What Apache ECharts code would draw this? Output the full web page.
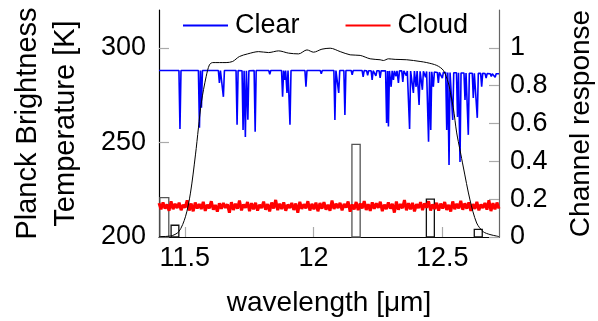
<!DOCTYPE html>
<html>
<head>
<meta charset="utf-8">
<script src="https://cdn.jsdelivr.net/npm/echarts@6/dist/echarts.min.js"></script>
<style>
  html, body { margin: 0; padding: 0; background: #fff; }
  #chart { width: 598px; height: 321px; }
</style>
</head>
<body>
<div id="chart"></div>
<script>
// clear-sky spectrum: absorption lines (centre, line bottom, continuum around it)
const dipWavelength = [
  11.4814, 11.5570, 11.5647, 11.6345, 11.6500, 11.7031, 11.7264, 11.7353, 11.7450, 11.7733,
  11.8300, 11.8798, 11.8876, 11.8969, 11.9085, 11.9705, 12.0300, 12.0829, 12.0977, 12.1217,
  12.1500, 12.1926, 12.2100, 12.2275, 12.2420, 12.2585, 12.2837, 12.2907, 12.3012, 12.3101,
  12.3200, 12.3295, 12.3465, 12.3600, 12.3729, 12.3876, 12.3981, 12.4097, 12.4225, 12.4350,
  12.4465, 12.4550, 12.4651, 12.4845, 12.5000, 12.5171, 12.5260, 12.5403, 12.5589, 12.5686,
  12.5880, 12.6008, 12.6202, 12.6357, 12.6527, 12.6700, 12.6900, 12.7050
];
const dipTemp = [
  257.1, 257.7, 268.3, 281.5, 274.1, 259.3, 256.6, 252.9, 262.0, 255.7,
  286.0, 274.1, 283.1, 276.2, 259.3, 279.4, 286.3, 261.9, 276.2, 264.5,
  285.8, 284.7, 285.5, 283.1, 285.2, 284.1, 260.3, 258.4, 279.4, 283.1,
  285.0, 281.5, 282.0, 285.3, 257.1, 276.2, 279.4, 269.8, 277.8, 284.5,
  250.3, 256.6, 279.4, 281.5, 284.0, 256.6, 238.1, 261.9, 263.5, 239.7,
  272.5, 254.0, 273.5, 263.0, 279.4, 284.0, 284.8, 284.5
];
const dipBase = [
  288.0, 288.0, 288.0, 288.0, 288.0, 288.0, 287.9, 287.9, 287.9, 288.0,
  288.0, 288.0, 288.0, 288.0, 288.0, 288.0, 288.0, 288.0, 288.0, 288.0,
  288.0, 288.0, 287.9, 287.9, 287.9, 287.9, 287.8, 287.8, 287.8, 287.8,
  287.8, 287.8, 287.8, 287.8, 287.7, 287.7, 287.7, 287.6, 287.6, 287.5,
  287.4, 287.3, 287.2, 287.0, 287.0, 286.9, 286.9, 286.8, 286.8, 286.7,
  286.7, 286.6, 286.6, 286.5, 286.5, 286.4, 286.3, 286.3
];

// cloudy spectrum, evenly sampled over the axis range
const cloudTemp = [
  217.9, 214.6, 218.3, 215.0, 217.2, 213.9, 218.8, 214.7, 217.5, 215.3,
  218.1, 214.2, 217.0, 215.6, 219.4, 214.0, 217.7, 213.6, 218.2, 215.1,
  217.4, 214.8, 218.6, 213.8, 217.1, 215.2, 218.9, 214.5, 216.9, 213.4,
  217.8, 214.9, 218.0, 215.4, 217.3, 212.9, 218.4, 214.3, 217.6, 215.0,
  219.2, 214.1, 217.2, 215.5, 218.5, 213.7, 217.9, 214.6, 218.1, 214.0,
  217.0, 215.3, 218.7, 214.4, 217.4, 213.5, 218.2, 215.1, 219.6, 214.2,
  217.6, 214.8, 218.3, 213.9, 217.1, 215.4, 218.0, 214.3, 217.7, 212.8,
  218.6, 214.9, 217.3, 215.2, 218.9, 214.0, 217.5, 214.7, 218.2, 213.6,
  217.9, 215.0, 218.4, 214.5, 217.0, 213.9, 219.3, 214.8, 217.6, 215.3,
  218.1, 214.1, 217.4, 215.6, 218.8, 213.4, 217.2, 214.6, 218.5, 214.2,
  217.7, 215.1, 219.0, 214.3, 217.3, 213.8, 218.3, 214.9, 217.8, 215.4,
  218.6, 213.7, 217.1, 214.8, 218.2, 215.0, 217.6, 212.9, 218.7, 214.4,
  217.4, 215.2, 219.5, 214.1, 217.9, 214.6, 218.0, 213.6, 217.3, 215.3,
  218.4, 214.2, 217.7, 215.5, 218.9, 214.0, 217.2, 214.8, 218.1, 213.9,
  217.6, 215.1, 218.5, 214.3, 217.0, 213.5, 218.8, 214.7, 217.5, 215.2,
  219.1, 214.4, 217.8, 215.0, 218.3, 213.8, 217.4, 214.9, 218.6, 214.1,
  217.2, 215.4, 218.0, 214.5, 219.4, 213.7, 217.9, 214.6, 218.2, 215.0
];

// channel spectral response
const srfWavelength = [
  11.400, 11.4058, 11.4446, 11.4767, 11.5027, 11.5221, 11.5415, 11.5531, 11.5647, 11.5829,
  11.5957, 11.6085, 11.6605, 11.6860, 11.7120, 11.7442, 11.7868, 11.8256, 11.8643, 11.9031,
  11.9419, 11.9744, 12.0000, 12.0326, 12.0647, 12.1035, 12.1422, 12.1810, 12.2198, 12.2585,
  12.2713, 12.2907, 12.3167, 12.3620, 12.4136, 12.4395, 12.4783, 12.5039, 12.5233, 12.5337,
  12.5426, 12.5558, 12.5686, 12.5814, 12.6074, 12.6333, 12.6589, 12.6849, 12.7109, 12.7200
];
const srfResponse = [
  0.000, 0.002, 0.005, 0.028, 0.107, 0.232, 0.434, 0.577, 0.714, 0.847,
  0.910, 0.922, 0.922, 0.928, 0.954, 0.968, 0.980, 0.975, 0.984, 0.972,
  0.968, 0.989, 0.977, 0.993, 0.998, 0.980, 0.963, 0.960, 0.942, 0.937,
  0.933, 0.942, 0.939, 0.937, 0.928, 0.922, 0.907, 0.881, 0.815, 0.746,
  0.683, 0.550, 0.460, 0.370, 0.196, 0.074, 0.028, 0.013, 0.005, 0.002
];

// outlined boxes on the response axis
const boxFrom = [11.403, 11.447, 12.149, 12.438, 12.624];
const boxTo = [11.438, 11.477, 12.181, 12.469, 12.655];
const boxHeight = [0.208, 0.062, 0.49, 0.2, 0.04];

const tempTicks = [200, 250, 300];
const respTicks = [0, 0.2, 0.4, 0.6, 0.8, 1];
const waveTicks = [11.5, 12, 12.5];

const waveMin = 11.4;
const waveMax = 12.72;

const font = "Liberation Sans";
const boxColors = ["#555", "#111", "#555", "#111", "#111"];

const clearData = [[waveMin, dipBase[0]]];
dipWavelength.forEach((w, i) => {
  clearData.push([w - 0.004, dipBase[i]]);
  clearData.push([w, dipTemp[i]]);
  clearData.push([w + 0.004, dipBase[i]]);
});
clearData.push([waveMax, dipBase[dipBase.length - 1]]);

const cloudStep = (waveMax - waveMin) / (cloudTemp.length - 1);
const cloudData = cloudTemp.map((t, i) => [waveMin + i * cloudStep, t]);

const srfData = srfWavelength.map((w, i) => [w, srfResponse[i]]);
const boxData = boxFrom.map((f, i) => [f, boxTo[i], boxHeight[i]]);

const chart = echarts.init(document.getElementById("chart"));

const option = {
  animation: false,
  textStyle: { fontFamily: font },
  grid: { left: 159, right: 99, top: 10, bottom: 84, outerBoundsMode: "none", containLabel: false },
  legend: {
    left: 183,
    top: 12,
    padding: 0,
    icon: "rect",
    itemWidth: 45,
    itemHeight: 2,
    itemGap: 46,
    data: ["Clear", "Cloud"],
    textStyle: { fontFamily: font, fontSize: 27, color: "#000", padding: [0, 0, 0, 2] },
  },
  xAxis: {
    type: "value",
    min: waveMin,
    max: waveMax,
    name: "wavelength [μm]",
    nameLocation: "middle",
    nameGap: 52,
    nameTextStyle: { fontFamily: font, fontSize: 28, color: "#000" },
    axisLine: { lineStyle: { color: "#000", width: 1.2 } },
    axisTick: {
      inside: true,
      length: 10,
      customValues: waveTicks,
      lineStyle: { color: "#aaa", width: 1.2 },
    },
    axisLabel: {
      customValues: waveTicks,
      margin: 8,
      fontFamily: font,
      fontSize: 27,
      color: "#000",
    },
    splitLine: { show: false },
  },
  yAxis: [
    {
      type: "value",
      position: "left",
      min: 200,
      max: 320,
      name: "Planck Brightness\nTemperature [K]",
      nameLocation: "middle",
      nameGap: 74,
      nameTextStyle: { fontFamily: font, fontSize: 29, color: "#000", lineHeight: 38 },
      axisLine: { show: true, lineStyle: { color: "#000", width: 1.2 } },
      axisTick: {
        show: true,
        inside: true,
        length: 10,
        customValues: tempTicks,
        lineStyle: { color: "#aaa", width: 1.2 },
      },
      axisLabel: {
        customValues: tempTicks,
        margin: 13,
        fontFamily: font,
        fontSize: 27,
        color: "#000",
      },
      splitLine: { show: false },
    },
    {
      type: "value",
      position: "right",
      min: 0,
      max: 1.2,
      name: "Channel response",
      nameLocation: "middle",
      nameGap: 68,
      nameTextStyle: { fontFamily: font, fontSize: 28, color: "#000" },
      axisLine: { show: true, lineStyle: { color: "#666", width: 1.2 } },
      axisTick: {
        show: true,
        inside: true,
        length: 10,
        customValues: respTicks,
        lineStyle: { color: "#aaa", width: 1.2 },
      },
      axisLabel: {
        customValues: respTicks,
        margin: 11,
        fontFamily: font,
        fontSize: 27,
        color: "#000",
      },
      splitLine: { show: false },
    },
  ],
  series: [
    {
      name: "boxes",
      type: "custom",
      xAxisIndex: 0,
      yAxisIndex: 1,
      z: 1,
      encode: { x: [0, 1], y: 2 },
      data: boxData,
      renderItem: (params, api) => {
        const topLeft = api.coord([api.value(0), api.value(2)]);
        const bottomRight = api.coord([api.value(1), 0]);
        return {
          type: "rect",
          shape: {
            x: topLeft[0],
            y: topLeft[1],
            width: bottomRight[0] - topLeft[0],
            height: bottomRight[1] - topLeft[1],
          },
          style: { fill: "none", stroke: boxColors[params.dataIndex], lineWidth: 1.3 },
        };
      },
    },
    {
      name: "Clear",
      type: "line",
      yAxisIndex: 0,
      z: 3,
      data: clearData,
      showSymbol: false,
      color: "#0000ff",
      lineStyle: { color: "#0000ff", width: 1.6 },
    },
    {
      name: "Cloud",
      type: "line",
      yAxisIndex: 0,
      z: 3,
      data: cloudData,
      showSymbol: false,
      color: "#ff0000",
      lineStyle: { color: "#ff0000", width: 3 },
    },
    {
      name: "response",
      type: "line",
      yAxisIndex: 1,
      z: 4,
      data: srfData,
      showSymbol: false,
      smooth: 0.3,
      color: "#000",
      lineStyle: { color: "#000", width: 1 },
    },
  ],
};

chart.setOption(option);
window.addEventListener("resize", () => chart.resize());
</script>
</body>
</html>
